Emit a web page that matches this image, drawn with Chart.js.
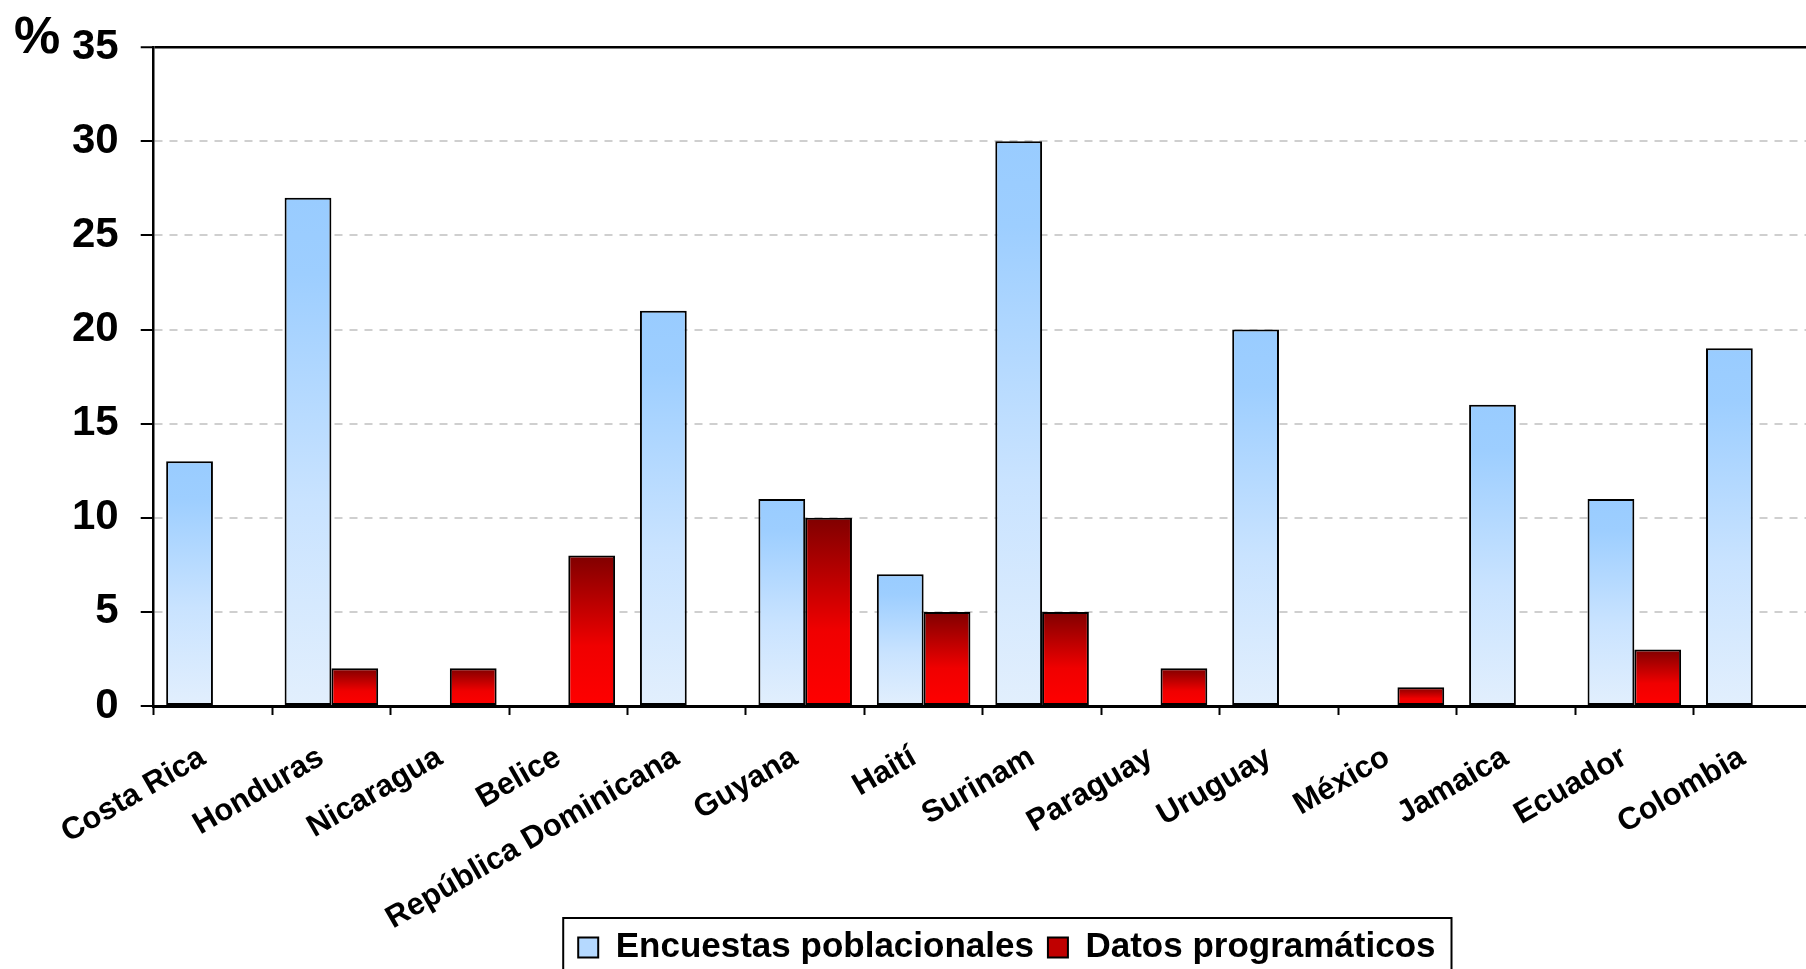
<!DOCTYPE html>
<html>
<head>
<meta charset="utf-8">
<script src="https://cdn.jsdelivr.net/npm/chart.js@4.4.1/dist/chart.umd.min.js"></script>
<style>
  html, body { margin: 0; padding: 0; background: #fff; overflow: hidden; }
  #wrap { position: absolute; left: 0; top: 0; width: 1820px; height: 985px; }
</style>
</head>
<body>
<div id="wrap"><canvas id="chart"></canvas></div>
<script>
// datos
const paises = ['Costa Rica', 'Honduras', 'Nicaragua', 'Belice', 'República Dominicana', 'Guyana',
  'Haití', 'Surinam', 'Paraguay', 'Uruguay', 'México', 'Jamaica', 'Ecuador', 'Colombia'];
const encuestas = [13, 27, null, null, 21, 11, 7, 30, null, 20, null, 16, 11, 19];
const programaticos = [null, 2, 2, 8, null, 10, 5, 5, 2, null, 1, null, 3, null];
const yTicks = [0, 5, 10, 15, 20, 25, 30, 35];

const FONT = '"Liberation Sans", Arial, sans-serif';
const azul = [[0, '#99CCFF'], [0.15, '#9DCEFF'], [0.6, '#C9E3FF'], [1, '#E2EFFD']];
const rojo = [[0, '#800000'], [0.6, '#F00000'], [1, '#FF0000']];

// degradado por barra, de su tope a la base
function degradado(ctx, stops) {
  const chart = ctx.chart;
  if (!chart.chartArea || ctx.type !== 'data' || ctx.raw == null) return stops[stops.length - 1][1];
  const y = chart.scales.y;
  const g = chart.ctx.createLinearGradient(0, y.getPixelForValue(ctx.raw), 0, y.getPixelForValue(0));
  stops.forEach(([o, c]) => g.addColorStop(o, c));
  return g;
}

// "%" arriba del eje
const signo = {
  id: 'signo',
  afterDraw(chart) {
    const c = chart.ctx;
    c.save();
    c.font = 'bold 52px ' + FONT;
    c.fillStyle = '#000';
    c.textBaseline = 'middle';
    c.textAlign = 'left';
    c.fillText('%', 14, chart.chartArea.top - 9);
    c.restore();
  }
};

// leyenda un poco a la derecha, con marco
const LEG_PAD = 14;
const marco = {
  id: 'marco',
  afterUpdate(chart) {
    const lg = chart.legend;
    const dx = 24;
    lg.left += dx;
    lg.right += dx;
    lg.legendHitBoxes.forEach(b => { b.left += dx; });
    // que las etiquetas largas no se recorten al borde del eje
    chart.scales.x.bottom = chart.height;
  },
  afterDraw(chart) {
    const lg = chart.legend;
    const boxes = lg.legendHitBoxes;
    if (!boxes || !boxes.length) return;
    const left = Math.min(...boxes.map(b => b.left)) - 15;
    const right = Math.max(...boxes.map(b => b.left + b.width)) + 16;
    const top = lg.top + LEG_PAD - 12;
    const bottom = lg.top + LEG_PAD + boxes[0].height + 14;
    const c = chart.ctx;
    c.save();
    c.strokeStyle = '#000';
    c.lineWidth = 2;
    c.strokeRect(left, top, right - left, bottom - top);
    c.restore();
  }
};

const legendFill = ['#B5D9FF', '#C00000'];

new Chart(document.getElementById('chart'), {
  type: 'bar',
  data: {
    labels: paises,
    datasets: [
      {
        label: 'Encuestas poblacionales',
        data: encuestas,
        backgroundColor: c => degradado(c, azul),
        borderColor: '#000',
        borderWidth: 2,
        borderSkipped: false,
        categoryPercentage: 0.79,
        barPercentage: 1
      },
      {
        label: 'Datos programáticos',
        data: programaticos,
        backgroundColor: c => degradado(c, rojo),
        borderColor: '#000',
        borderWidth: 2,
        borderSkipped: false,
        categoryPercentage: 0.79,
        barPercentage: 1
      }
    ]
  },
  options: {
    responsive: true,
    maintainAspectRatio: false,
    animation: false,
    layout: { padding: { left: 50, right: 8, top: 26, bottom: 10 } },
    plugins: {
      tooltip: { enabled: false },
      legend: {
        position: 'bottom',
        fullSize: false,
        labels: {
          color: '#000',
          font: { family: FONT, size: 35, weight: 'bold' },
          boxWidth: 20,
          boxHeight: 20,
          padding: LEG_PAD,
          generateLabels: chart => Chart.defaults.plugins.legend.labels.generateLabels(chart)
            .map((l, i) => Object.assign(l, { fillStyle: legendFill[i], strokeStyle: '#000', lineWidth: 2 }))
        }
      }
    },
    scales: {
      x: {
        offset: true,
        afterFit: s => { s.paddingLeft = 0; s.paddingRight = 0; s.height = 210; },
        grid: { offset: true, drawOnChartArea: false, tickLength: 9, tickColor: '#000', tickWidth: 2 },
        border: { color: '#000', width: 3 },
        ticks: {
          autoSkip: false, minRotation: 30, maxRotation: 30, labelOffset: -10, padding: 24,
          color: '#000', font: { family: FONT, size: 31, weight: 'bold' }
        }
      },
      y: {
        min: 0,
        max: 35,
        afterBuildTicks: s => { s.ticks = yTicks.map(v => ({ value: v })); },
        grid: {
          color: c => c.tick && c.tick.value === 35 ? '#000' : '#CFCFCF',
          lineWidth: c => c.tick && c.tick.value === 35 ? 2.5 : 2,
          tickColor: '#000', tickWidth: 2, tickLength: 13
        },
        border: { color: '#000', width: 2.5, dash: c => c.tick && c.tick.value === 35 ? [] : [8, 7] },
        ticks: { padding: 22, color: '#000', font: { family: FONT, size: 42, weight: 'bold' } }
      }
    }
  },
  plugins: [signo, marco]
});
</script>
</body>
</html>
